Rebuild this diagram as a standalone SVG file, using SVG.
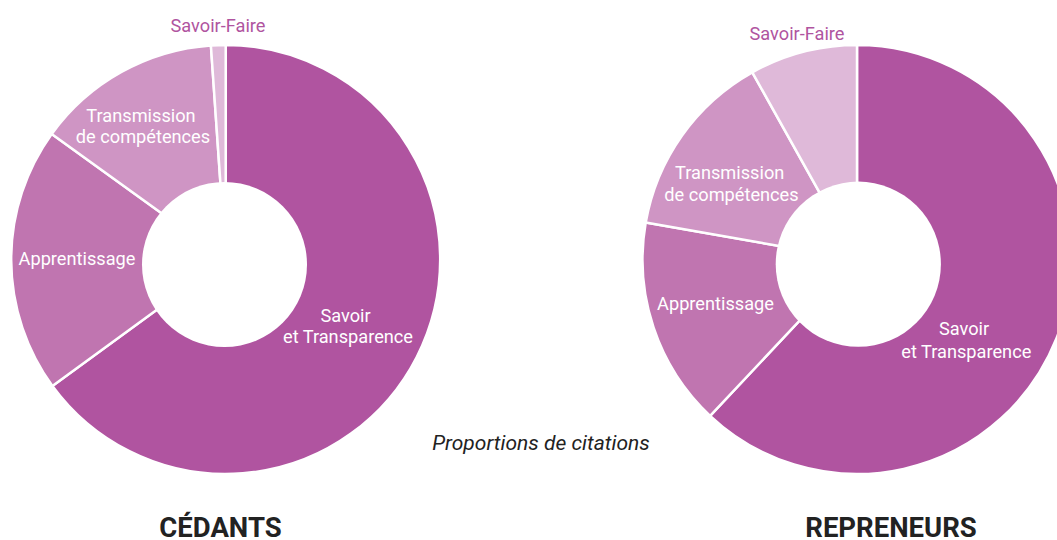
<svg xmlns="http://www.w3.org/2000/svg" width="1057" height="540" viewBox="0 0 1057 540">
<style>
.w{stroke:#fff;stroke-width:2.5;stroke-linejoin:round}
.c1{fill:#B054A0}.c2{fill:#C075B0}.c3{fill:#CF95C4}.c4{fill:#DFB9D9}
.lbl{font-family:Roboto,"Liberation Sans",sans-serif;font-size:18.2px;fill:#fff;text-anchor:middle}
.out{fill:#B054A0}
.ttl{font-family:Roboto,"Liberation Sans",sans-serif;font-size:27.5px;font-weight:bold;fill:#222;text-anchor:middle}
.sub{font-family:Roboto,"Liberation Sans",sans-serif;font-size:21px;font-style:italic;fill:#222;text-anchor:middle}
</style>
<rect width="1057" height="540" fill="#fff"/>
<g id="cedants">
<path class="w c1" d="M225.7,259.5 L225.7,45 A214.5,214.5 0 1 1 52.4,385.9 Z"/>
<path class="w c2" d="M225.7,259.5 L52.4,385.9 A214.5,214.5 0 0 1 51.7,134 Z"/>
<path class="w c3" d="M225.7,259.5 L51.7,134 A214.5,214.5 0 0 1 210.9,45.5 Z"/>
<path class="w c4" d="M225.7,259.5 L210.9,45.5 A214.5,214.5 0 0 1 225.7,45 Z"/>
<circle cx="224.5" cy="264.5" r="82.5" fill="#fff"/>
<text class="lbl out" x="218" y="32">Savoir-Faire</text>
<text class="lbl" x="141" y="121.5">Transmission</text>
<text class="lbl" x="143" y="142.5">de compétences</text>
<text class="lbl" x="77" y="265">Apprentissage</text>
<text class="lbl" x="345.5" y="322">Savoir</text>
<text class="lbl" x="348" y="343">et Transparence</text>
<text class="ttl" x="220.5" y="537">CÉDANTS</text>
</g>
<g id="repreneurs">
<path class="w c1" d="M857,259.5 L857,45 A214.5,214.5 0 1 1 710.1,415.8 Z"/>
<path class="w c2" d="M857,259.5 L710.1,415.8 A214.5,214.5 0 0 1 645.7,222.6 Z"/>
<path class="w c3" d="M857,259.5 L645.7,222.6 A214.5,214.5 0 0 1 752.3,72.3 Z"/>
<path class="w c4" d="M857,259.5 L752.3,72.3 A214.5,214.5 0 0 1 857,45 Z"/>
<circle cx="858.3" cy="264.2" r="82.6" fill="#fff"/>
<text class="lbl out" x="797" y="39.5">Savoir-Faire</text>
<text class="lbl" x="729.7" y="179">Transmission</text>
<text class="lbl" x="731.5" y="200.5">de compétences</text>
<text class="lbl" x="715.5" y="310">Apprentissage</text>
<text class="lbl" x="964" y="335">Savoir</text>
<text class="lbl" x="966.3" y="357.5">et Transparence</text>
<text class="ttl" x="891" y="537">REPRENEURS</text>
</g>
<g id="caption">
<text class="sub" x="541" y="449.5">Proportions de citations</text>
</g>
</svg>
